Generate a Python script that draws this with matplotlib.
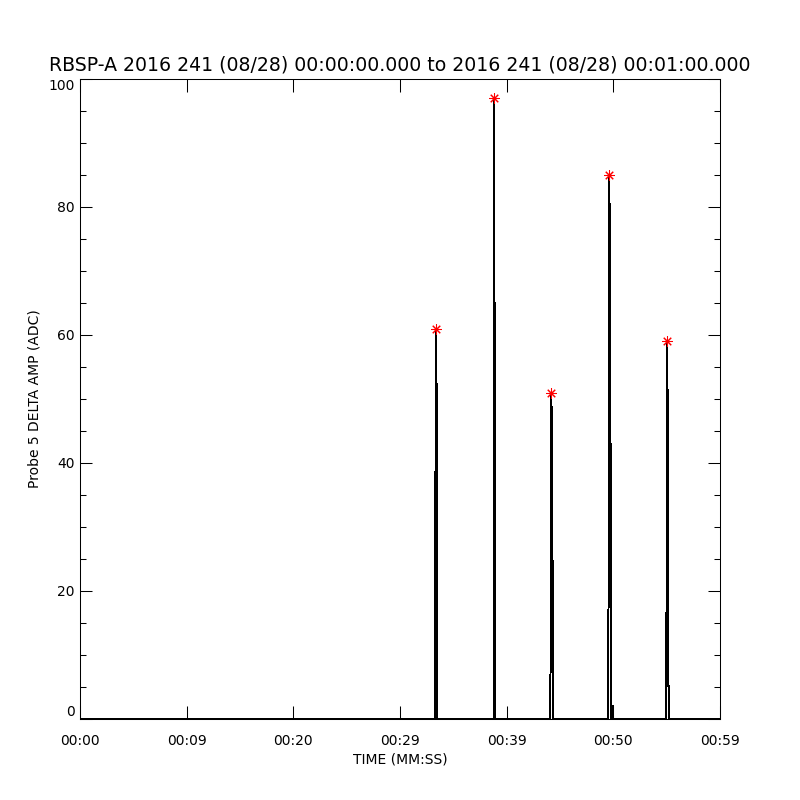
import matplotlib
matplotlib.use("Agg")
import matplotlib.pyplot as plt
import numpy as np

# ---- data (seconds, ADC) ----
spike1_t = [33.29, 33.31, 33.38, 33.40, 33.46, 33.47]
spike1_v = [0, 38.5, 39.4, 61, 38, 0]
spike2_t = [38.77, 38.78, 38.80, 38.81, 38.86, 38.92, 38.93]
spike2_v = [0, 58.4, 64.8, 97, 64.8, 58.4, 0]
spike3_t = [44.08, 44.10, 44.17, 44.18, 44.24, 44.31, 44.33]
spike3_v = [0, 1, 45.5, 51, 45.5, 20.1, 0]
spike4_t = [49.51, 49.53, 49.61, 49.62, 49.68, 49.76, 49.78, 49.96, 49.97, 49.98]
spike4_v = [0, 2.4, 72.1, 85, 72.1, 29.7, 0, 0, 2.0, 0]
spike5_t = [54.95, 54.97, 55.05, 55.06, 55.12, 55.16, 55.24, 55.25]
spike5_v = [0, 12.7, 34.6, 59, 34.6, 5.1, 5.1, 0]

peak_t = [33.40, 38.81, 44.18, 49.62, 55.06]
peak_v = [61, 97, 51, 85, 59]

xtick_vals = [0, 10, 20, 30, 40, 50, 60]
xtick_labels = ["00:00", "00:09", "00:20", "00:29", "00:39", "00:50", "00:59"]
ytick_vals = [0, 20, 40, 60, 80, 100]
ytick_labels = ["0", "20", "40", "60", "80", "100"]

title = "RBSP-A 2016 241 (08/28) 00:00:00.000 to 2016 241 (08/28) 00:01:00.000"

t = np.concatenate([[0.0], spike1_t, spike2_t, spike3_t, spike4_t, spike5_t, [60.0]])
v = np.concatenate([[0.0], spike1_v, spike2_v, spike3_v, spike4_v, spike5_v, [0.0]])

fig = plt.figure(figsize=(8, 8), dpi=100)
ax = fig.add_axes([0.1, 0.10125, 0.8, 0.8])
ax.plot(t, v, color="black", lw=0.72, antialiased=False)
ax.plot(peak_t, peak_v, linestyle="none", marker=(8, 2, 0), color="red",
        markersize=7.5, markeredgewidth=0.75)

ax.set_xlim(0, 60)
ax.set_ylim(0, 100)
for s in ax.spines.values():
    s.set_linewidth(0.75)

ax.set_xticks(xtick_vals)
ax.set_xticklabels(xtick_labels)
ax.set_yticks(ytick_vals)
ax.set_yticklabels(ytick_labels)
ax.set_yticks(np.arange(0, 101, 5), minor=True)

ax.tick_params(axis="x", which="major", direction="in", length=9.5, width=0.75,
               top=True, bottom=True, labelsize=10, pad=11)
ax.tick_params(axis="y", which="major", direction="in", length=8.6, width=0.75,
               left=True, right=True, labelsize=10, pad=4)
ax.tick_params(axis="y", which="minor", direction="in", length=4.3, width=0.75,
               left=True, right=True)
ax.tick_params(axis="x", which="minor", bottom=False, top=False)

ylabs = ax.get_yticklabels()
ylabs[0].set_va("bottom")
ylabs[-1].set_va("top")

ax.set_xlabel("TIME (MM:SS)", fontsize=10, labelpad=3)
ax.set_ylabel("Probe 5 DELTA AMP (ADC)", fontsize=10, labelpad=5)
ax.set_title(title, fontsize=13.6, pad=6)

fig.savefig("out.png", dpi=100)
